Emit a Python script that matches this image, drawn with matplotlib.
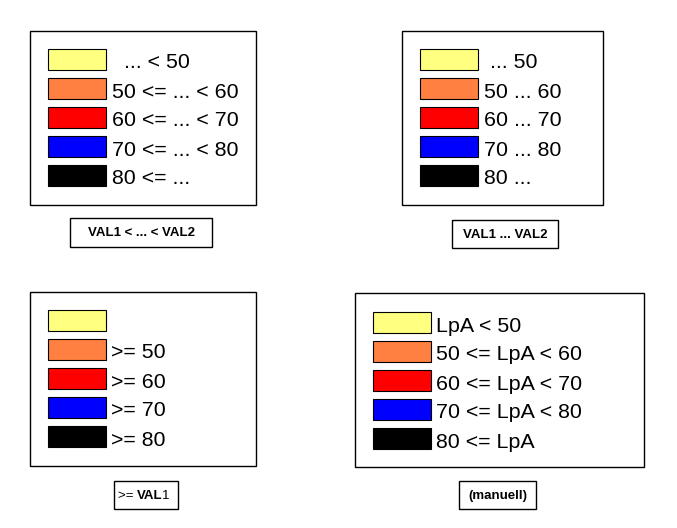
import matplotlib.pyplot as plt
from matplotlib.patches import Rectangle

plt.rcParams['font.family'] = ['Liberation Sans', 'DejaVu Sans']

colors = ['#FFFF80', '#FF8040', '#FF0000', '#0000FF', '#000000']

labels_range = ['  ... < 50', '50 <= ... < 60', '60 <= ... < 70', '70 <= ... < 80', '80 <= ...']
labels_dots = [' ... 50', '50 ... 60', '60 ... 70', '70 ... 80', '80 ...']
labels_ge = ['', '>= 50', '>= 60', '>= 70', '>= 80']
labels_manual = ['LpA < 50', '50 <= LpA < 60', '60 <= LpA < 70', '70 <= LpA < 80', '80 <= LpA']

captions = ['VAL1 < ... < VAL2', 'VAL1 ... VAL2', None, '(manuell)']
# the ">= VAL1" caption mixes weights: (text, weight)
caption_ge = [('>= ', 'normal'), ('VAL', 'bold'), ('1', 'normal')]

# panel layout in pixels: box (x0, y0, x1, y1), swatch x, text x, first swatch y, caption box
panels = [
    dict(labels=labels_range, box=(30, 31, 256, 205), sx=48, tx=112, sy=49,
         cap=(70, 218, 212, 247)),
    dict(labels=labels_dots, box=(402, 31, 603, 205), sx=420, tx=484, sy=49,
         cap=(452, 220, 558, 248)),
    dict(labels=labels_ge, box=(30, 292, 256, 466), sx=48, tx=111, sy=310,
         cap=(114, 481, 178, 509)),
    dict(labels=labels_manual, box=(355, 293, 644, 467), sx=373, tx=436, sy=312,
         cap=(459, 481, 536, 509)),
]

sw_w, sw_h, step = 58, 21, 29
cap_size = 9.5

fig = plt.figure(figsize=(6.77, 5.28), dpi=100)
ax = fig.add_axes([0, 0, 1, 1])
ax.set_xlim(0, 677)
ax.set_ylim(528, 0)
ax.axis('off')

for i, p in enumerate(panels):
    x0, y0, x1, y1 = p['box']
    ax.add_patch(Rectangle((x0, y0), x1 - x0, y1 - y0, fill=False, ec='black', lw=1))
    for j, (c, lab) in enumerate(zip(colors, p['labels'])):
        y = p['sy'] + j * step
        ax.add_patch(Rectangle((p['sx'], y), sw_w, sw_h, fc=c, ec='black', lw=0.8))
        ax.text(p['tx'], y + sw_h - 1.5, lab, fontsize=15.4, va='baseline', ha='left')
    cx0, cy0, cx1, cy1 = p['cap']
    ax.add_patch(Rectangle((cx0, cy0), cx1 - cx0, cy1 - cy0, fill=False, ec='black', lw=1))
    if captions[i] is not None:
        ax.text((cx0 + cx1) / 2, (cy0 + cy1) / 2 + 4, captions[i], fontsize=cap_size,
                fontweight='bold', ha='center', va='baseline')
    else:
        prev = ax.text(cx0 + 3.5, (cy0 + cy1) / 2 + 4, caption_ge[0][0], fontsize=cap_size,
                       fontweight=caption_ge[0][1], ha='left', va='baseline')
        for txt, w in caption_ge[1:]:
            prev = ax.annotate(txt, xy=(1, 0), xycoords=prev, fontsize=cap_size,
                               fontweight=w, ha='left', va='bottom')

fig.savefig('out.png', dpi=100)
